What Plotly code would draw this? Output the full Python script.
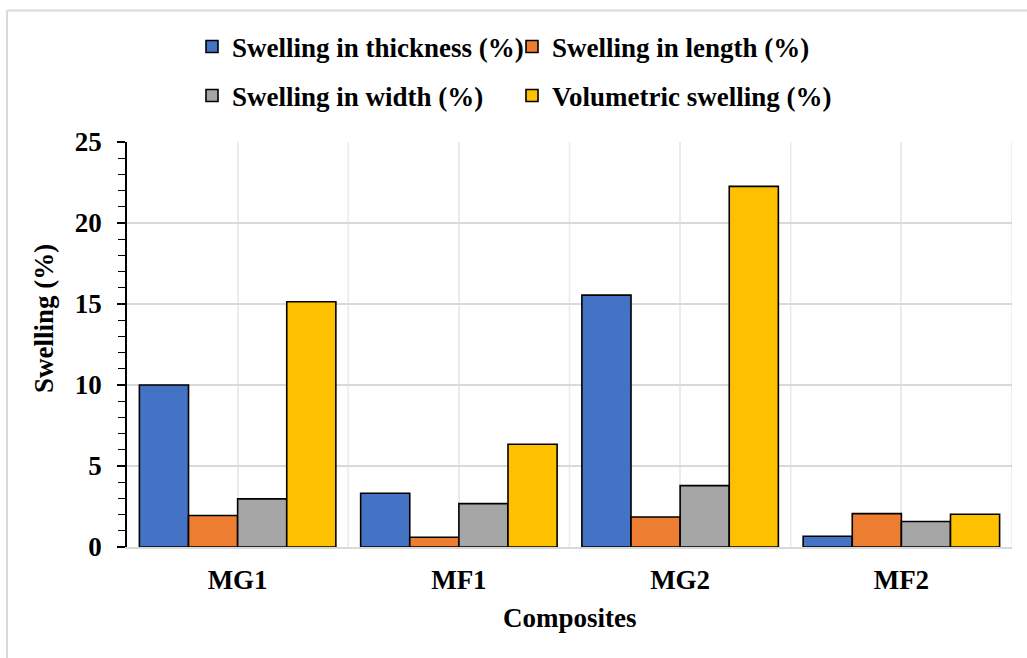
import plotly.graph_objects as go

categories = ["MG1", "MF1", "MG2", "MF2"]
thickness = [10.0, 3.32, 15.55, 0.66]
length = [1.94, 0.60, 1.85, 2.06]
width = [2.97, 2.68, 3.79, 1.57]
volumetric = [15.14, 6.34, 22.26, 2.02]

series_names = ["Swelling in thickness (%)", "Swelling in length (%)",
                "Swelling in width (%)", "Volumetric swelling (%)"]
series_values = [thickness, length, width, volumetric]
series_colors = ["#4472C4", "#ED7D31", "#A5A5A5", "#FFC000"]
series_legends = ["legend", "legend", "legend2", "legend2"]

FONT = "Liberation Serif"
FS = 27

fig = go.Figure()
for name, vals, col, lg in zip(series_names, series_values, series_colors, series_legends):
    fig.add_trace(go.Bar(
        x=categories, y=vals, name="<b>%s</b>" % name, legend=lg,
        marker=dict(color=col, line=dict(color="#000000", width=1.6)),
    ))

W, H = 1027, 658
ml, mr, mt, mb = 127, 15, 142, 111
pw = W - ml - mr
ph = H - mt - mb

def px_x(x):
    return (x - ml) / pw

def px_y(y):
    return (H - mb - y) / ph

shapes = []
# category boundary gridlines
for b in [0.5, 1.5, 2.5, 3.5]:
    shapes.append(dict(type="line", xref="x", yref="paper", x0=b, x1=b, y0=0, y1=1,
                       line=dict(color="#ebebeb", width=1.5), layer="below"))
# chart-area border (top and left visible)
shapes.append(dict(type="line", xref="paper", yref="paper",
                   x0=px_x(7), x1=px_x(1060), y0=px_y(10.5), y1=px_y(10.5),
                   line=dict(color="#d9d9d9", width=2)))
shapes.append(dict(type="line", xref="paper", yref="paper",
                   x0=px_x(7), x1=px_x(7), y0=px_y(10.5), y1=px_y(700),
                   line=dict(color="#d9d9d9", width=2)))

legend_common = dict(orientation="h", xanchor="left", yanchor="middle",
                     entrywidth=275, entrywidthmode="pixels", traceorder="normal",
                     font=dict(family=FONT, size=FS, color="#000000"),
                     bgcolor="rgba(0,0,0,0)")

fig.update_layout(
    width=W, height=H,
    margin=dict(l=ml, r=mr, t=mt, b=mb, autoexpand=False),
    paper_bgcolor="white", plot_bgcolor="white",
    font=dict(family=FONT, color="#000000"),
    barmode="group", bargap=0.112, bargroupgap=0,
    shapes=shapes,
    legend=dict(x=px_x(192), y=px_y(47), **legend_common),
    legend2=dict(x=px_x(192), y=px_y(96), **legend_common),
    xaxis=dict(
        type="category", showgrid=True, gridcolor="#ebebeb", gridwidth=1.5,
        showline=True, linecolor="#d9d9d9", linewidth=1.5,
        ticks="", ticklabelstandoff=8,
        tickfont=dict(family=FONT, size=FS, color="#000000"),
        range=[-0.5, 3.5],
        tickvals=categories, ticktext=["<b>%s</b>" % c for c in categories],
    ),
    yaxis=dict(
        range=[0, 25], dtick=5, tick0=0,
        showgrid=True, gridcolor="#d9d9d9", gridwidth=1.5, zeroline=False,
        showline=True, linecolor="#000000", linewidth=1.5,
        ticks="outside", ticklen=8, tickwidth=1.5, tickcolor="#000000",
        minor=dict(dtick=1, ticks="outside", ticklen=7, tickwidth=1.2, tickcolor="#000000", showgrid=False),
        ticklabelstandoff=10,
        tickfont=dict(family=FONT, size=FS, color="#000000"),
        tickvals=[0, 5, 10, 15, 20, 25],
        ticktext=["<b>%d</b>" % v for v in [0, 5, 10, 15, 20, 25]],
    ),
    annotations=[
        dict(text="<b>Swelling (%)</b>", xref="paper", yref="paper",
             x=px_x(44), y=px_y(319), textangle=-90, showarrow=False,
             xanchor="center", yanchor="middle",
             font=dict(family=FONT, size=FS, color="#000000")),
        dict(text="<b>Composites</b>", xref="paper", yref="paper",
             x=px_x(570), y=px_y(618), showarrow=False,
             xanchor="center", yanchor="middle",
             font=dict(family=FONT, size=FS, color="#000000")),
    ],
)

fig.write_html("out.html",
               config={"displayModeBar": False},
               post_script="document.body.style.margin='0';document.body.style.overflow='hidden';")
